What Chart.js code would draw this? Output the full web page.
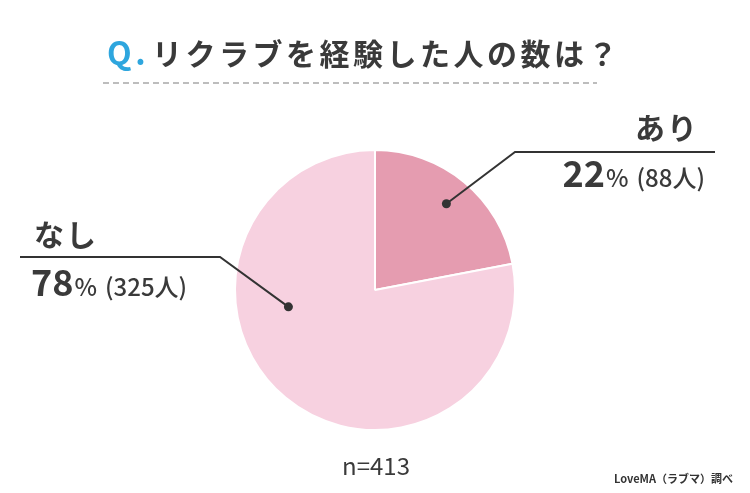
<!DOCTYPE html>
<html>
<head>
<meta charset="utf-8">
<script src="https://cdn.jsdelivr.net/npm/chart.js@4"></script>
<style>
  html, body { margin: 0; padding: 0; background: #fff; }
  #wrap { width: 750px; height: 493px; position: relative; }
</style>
</head>
<body>
<div id="wrap"><canvas id="pieChart" width="750" height="493"></canvas></div>
<script>
// ---- data ----
const categories = ['あり', 'なし'];
const percents = [22, 78];
const counts = [88, 325];
const sampleSize = 413;
const sliceColors = ['#e59cb0', '#f7d1e0'];

const titleQ = 'Q.';
const titleText = 'リクラブを経験した人の数は？';
const sourceText = 'LoveMA（ラブマ）調べ';

const FONT = '"Noto Sans CJK JP", "Noto Sans", sans-serif';
const TEXT = '#3a3a3a';

// pieces drawn one after another on a baseline
function drawRuns(c, runs, x, y, align) {
    let total = 0;
    runs.forEach(r => { c.font = r.font; total += c.measureText(r.text).width + (r.gap || 0); });
    let cx = align === 'right' ? x - total : x;
    c.textAlign = 'left';
    runs.forEach(r => {
        c.font = r.font;
        c.fillStyle = r.color || TEXT;
        c.fillText(r.text, cx, y);
        cx += c.measureText(r.text).width + (r.gap || 0);
    });
}

const overlay = {
    id: 'overlay',
    afterDraw(chart) {
        const c = chart.ctx;
        const arcs = chart.getDatasetMeta(0).data;
        const cxp = arcs[0].x, cyp = arcs[0].y, R = arcs[0].outerRadius;
        c.save();
        c.textBaseline = 'alphabetic';

        // title
        c.letterSpacing = '3.5px';
        drawRuns(c, [
            { text: titleQ, font: 'bold 32px ' + FONT, color: '#2ea6de', gap: 3 },
            { text: titleText, font: 'bold 30px ' + FONT }
        ], 107, 65, 'left');
        c.letterSpacing = '0px';

        // dashed rule under title
        c.strokeStyle = '#bdbdbd';
        c.lineWidth = 2;
        c.setLineDash([6, 4]);
        c.beginPath();
        c.moveTo(103, 83);
        c.lineTo(597, 83);
        c.stroke();
        c.setLineDash([]);

        // leader lines: anchor inside slice -> elbow -> horizontal
        const anchor = (angleDeg, frac) => {
            const a = angleDeg * Math.PI / 180;
            return [cxp + Math.sin(a) * R * frac, cyp - Math.cos(a) * R * frac];
        };
        const aMid = percents[0] / 100 * 180;
        const leaders = [
            { p: anchor(aMid, 0.8), elbow: [515, 152], end: 715 },
            { p: anchor(259, 0.63), elbow: [220, 257], end: 20 }
        ];
        c.strokeStyle = '#333';
        c.fillStyle = '#333';
        c.lineWidth = 2;
        leaders.forEach(l => {
            c.beginPath();
            c.moveTo(l.p[0], l.p[1]);
            c.lineTo(l.elbow[0], l.elbow[1]);
            c.lineTo(l.end, l.elbow[1]);
            c.stroke();
            c.beginPath();
            c.arc(l.p[0], l.p[1], 4.5, 0, Math.PI * 2);
            c.fill();
        });

        // labels
        c.letterSpacing = '2px';
        drawRuns(c, [{ text: categories[0], font: 'bold 30px ' + FONT }], 699, 139, 'right');
        drawRuns(c, [{ text: categories[1], font: 'bold 30px ' + FONT }], 34, 246, 'left');
        c.letterSpacing = '0px';

        const valueRuns = i => [
            { text: String(percents[i]), font: 'bold 36px ' + FONT, gap: 1 },
            { text: '%', font: '500 24px ' + FONT, gap: 8 },
            { text: '(' + counts[i] + '人)', font: '500 24px ' + FONT }
        ];
        drawRuns(c, valueRuns(0), 705, 187, 'right');
        drawRuns(c, valueRuns(1), 31, 296, 'left');

        // sample size and source
        c.font = '24px ' + FONT;
        c.fillStyle = TEXT;
        c.textAlign = 'center';
        c.fillText('n=' + sampleSize, 376, 475);

        c.font = 'bold 11px ' + FONT;
        c.fillStyle = '#333';
        c.textAlign = 'right';
        c.fillText(sourceText, 733, 483);
        c.restore();
    }
};

new Chart(document.getElementById('pieChart'), {
    type: 'pie',
    data: {
        labels: categories,
        datasets: [{
            data: percents,
            backgroundColor: sliceColors,
            borderColor: '#ffffff',
            borderWidth: 2
        }]
    },
    options: {
        responsive: false,
        animation: false,
        layout: { padding: { top: 149, bottom: 62, left: 0, right: 0 } },
        plugins: {
            legend: { display: false },
            tooltip: { enabled: false }
        }
    },
    plugins: [overlay]
});
</script>
</body>
</html>
